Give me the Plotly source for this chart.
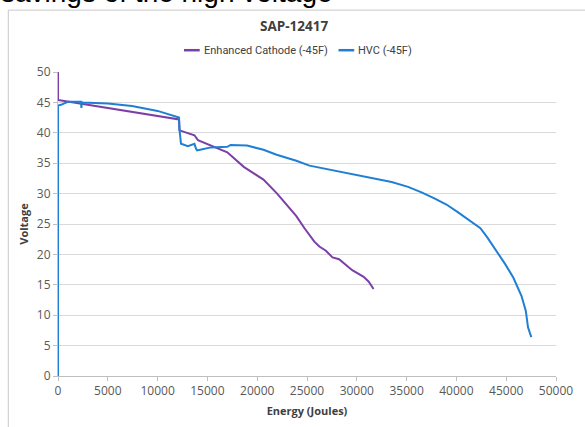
import plotly.graph_objects as go

# Discharge curves at -45F: energy delivered (J) vs. voltage (V)
cathode_energy = [0, 0, 12150, 12200, 13700, 13900, 14050, 17000, 18000, 18650, 19500,
                  20630, 22000, 23930, 24750, 25300, 25740, 26240, 26900, 27560, 28220,
                  29540, 30690, 31200, 31680]
cathode_voltage = [50, 45.4, 42.2, 40.4, 39.6, 39.2, 38.8, 36.8, 35.3, 34.4, 33.5,
                   32.3, 30.0, 26.3, 24.3, 23.0, 22.1, 21.3, 20.6, 19.5, 19.2,
                   17.4, 16.3, 15.5, 14.3]

hvc_energy = [0, 0, 300, 990, 2300, 2350, 2400, 2450, 5000, 7430, 10000, 12150, 12200,
              12350, 13040, 13700, 13850, 13960, 14500, 15350, 17000, 17330, 18980,
              20630, 21950, 23930, 25250, 28550, 31850, 33500, 35150, 36500, 37790,
              39000, 40100, 40900, 41750, 42410, 43100, 43730, 44060, 44900, 45710,
              46530, 46970, 47190, 47520]
hvc_voltage = [0, 44.5, 44.6, 45.1, 45.1, 44.1, 45.1, 45.0, 44.8, 44.4, 43.6, 42.5, 40.5,
               38.2, 37.8, 38.2, 37.4, 37.1, 37.3, 37.6, 37.7, 38.0, 37.9,
               37.2, 36.4, 35.4, 34.6, 33.5, 32.5, 31.9, 31.1, 30.2, 29.2,
               28.2, 27.0, 26.1, 25.1, 24.3, 22.8, 21.3, 20.5, 18.4, 16.2,
               13.2, 10.7, 8.0, 6.4]

series_names = ["Enhanced Cathode (-45F)", "HVC (-45F)"]
series_colors = ["#7B3FA6", "#1F7FD4"]

x_ticks = list(range(0, 50001, 5000))
y_ticks = list(range(0, 51, 5))

W, H = 585, 427
ML, MR, MT, MB = 58, 21, 72, 48
pw, ph = W - ML - MR, H - MT - MB


def px_x(p):
    return (p - ML) / pw


def px_y(p):
    return 1 - (p - MT) / ph


fig = go.Figure()
fig.add_trace(go.Scatter(x=cathode_energy, y=cathode_voltage, mode="lines",
                         name=series_names[0],
                         line=dict(color=series_colors[0], width=2)))
fig.add_trace(go.Scatter(x=hvc_energy, y=hvc_voltage, mode="lines",
                         name=series_names[1],
                         line=dict(color=series_colors[1], width=2)))

font_main = "Open Sans"
fig.update_layout(
    width=W, height=H,
    margin=dict(l=ML, r=MR, t=MT, b=MB),
    paper_bgcolor="white", plot_bgcolor="white",
    showlegend=False,
    xaxis=dict(range=[0, 50000], tickvals=x_ticks, tickformat="d",
               showgrid=False, zeroline=False, showline=True, linecolor="#BFBFBF",
               ticks="outside", ticklen=4, tickcolor="#BFBFBF",
               tickfont=dict(family=font_main, size=12, color="#595959"),
               title=dict(text="<b>Energy (Joules)</b>", standoff=8,
                          font=dict(family=font_main, size=11, color="#404040"))),
    yaxis=dict(range=[0, 50], tickvals=y_ticks,
               showgrid=True, gridcolor="#D9D9D9", gridwidth=1, zeroline=False,
               showline=True, linecolor="#BFBFBF",
               ticks="outside", ticklen=4, tickcolor="#BFBFBF",
               tickfont=dict(family=font_main, size=12, color="#595959"),
               title=dict(text="<b>Voltage</b>", standoff=6,
                          font=dict(family=font_main, size=11, color="#404040"))),
)

# Chart title
fig.add_annotation(text="<b>SAP-12417</b>", xref="paper", yref="paper",
                   x=px_x(298), y=px_y(26), xanchor="center", yanchor="middle",
                   showarrow=False, font=dict(family=font_main, size=13.5, color="#404040"))

# Legend: short line sample followed by the series name
legend_line_x = [186, 343]
legend_y = 50
for name, color, lx in zip(series_names, series_colors, legend_line_x):
    fig.add_shape(type="line", xref="paper", yref="paper",
                  x0=px_x(lx), x1=px_x(lx + 16), y0=px_y(legend_y), y1=px_y(legend_y),
                  line=dict(color=color, width=2.5))
    fig.add_annotation(text=name, xref="paper", yref="paper",
                       x=px_x(lx + 18), y=px_y(legend_y), xanchor="left", yanchor="middle",
                       showarrow=False, font=dict(family="Roboto", size=11, color="#404040"))

# Heading line of the surrounding page, cut at the top edge
fig.add_annotation(text="savings of the high voltage", xref="paper", yref="paper",
                   x=px_x(-2), y=px_y(9), xanchor="left", yanchor="bottom",
                   showarrow=False, font=dict(family="Liberation Sans", size=28, color="#000000"))

# Chart-area border
fig.add_shape(type="rect", xref="paper", yref="paper",
              x0=px_x(7.5), x1=px_x(600), y0=px_y(440), y1=px_y(9.5),
              line=dict(color="#C8C8C8", width=1), fillcolor="rgba(0,0,0,0)", layer="below")

fig.write_html("out.html")
